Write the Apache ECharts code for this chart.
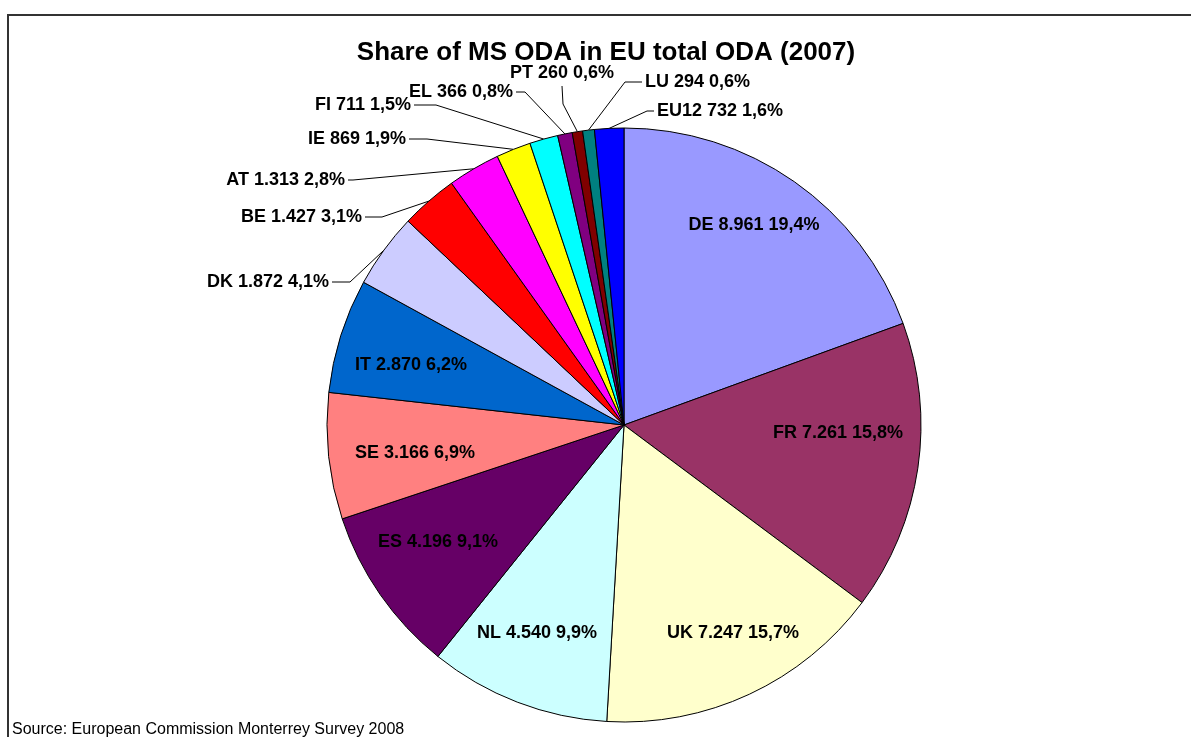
<!DOCTYPE html>
<html lang="en">
<head>
<meta charset="UTF-8">
<title>Share of MS ODA in EU total ODA (2007)</title>
<script src="https://cdn.jsdelivr.net/npm/echarts@6/dist/echarts.min.js"></script>
<style>
html, body { margin: 0; padding: 0; background: #fff; }
#main { width: 1191px; height: 737px; }
</style>
</head>
<body>
<div id="main"></div>
<script type="text/javascript">
// values, clockwise from 12 o'clock (EUR million)
var countries = ['DE', 'FR', 'UK', 'NL', 'ES', 'SE', 'IT', 'DK', 'BE', 'AT', 'IE', 'FI', 'EL', 'PT', 'LU', 'EU12'];
var oda = [8961, 7261, 7247, 4540, 4196, 3166, 2870, 1872, 1427, 1313, 869, 711, 366, 260, 294, 732];
var colors = ['#9999FF', '#993366', '#FFFFCC', '#CCFFFF', '#660066', '#FF8080', '#0066CC', '#CCCCFF',
              '#FF0000', '#FF00FF', '#FFFF00', '#00FFFF', '#800080', '#800000', '#008080', '#0000FF'];

var cx = 624, cy = 425, radius = 297;

// label placement, the way excel put them (inside ones have no elbow)
var labelSpots = [
	{x: 754, y: 225, align: 'center'},
	{x: 838, y: 433, align: 'center'},
	{x: 733, y: 633, align: 'center'},
	{x: 537, y: 633, align: 'center'},
	{x: 438, y: 542, align: 'center'},
	{x: 415, y: 453, align: 'center'},
	{x: 411, y: 365, align: 'center'},
	{x: 329, y: 282, align: 'right', elbow: [350, 282]},
	{x: 362, y: 217, align: 'right', elbow: [382, 217]},
	{x: 345, y: 180, align: 'right', elbow: [353, 180]},
	{x: 406, y: 139, align: 'right', elbow: [427, 139]},
	{x: 411, y: 105, align: 'right', elbow: [436, 105]},
	{x: 513, y: 92, align: 'right', elbow: [525, 92]},
	{x: 562, y: 73, align: 'center', elbow: [563, 104], end: [562, 86]},
	{x: 645, y: 82, align: 'left', elbow: [625, 82]},
	{x: 657, y: 111, align: 'left', elbow: [647, 111]}
];

var total = oda.reduce(function (a, b) { return a + b; }, 0);

function fmt(v) {
	return String(v).replace(/\B(?=(\d{3})+(?!\d))/g, '.');
}

var pieData = countries.map(function (c, i) {
	var inside = !labelSpots[i].elbow;
	return {
		name: c,
		value: oda[i],
		itemStyle: {color: colors[i]},
		label: {position: inside ? 'inside' : 'outside'},
		labelLine: {show: !inside}
	};
});

var myChart = echarts.init(document.getElementById('main'));

var option = {
	animation: false,
	title: [{
		text: 'Share of MS ODA in EU total ODA (2007)',
		left: 606,
		top: 40,
		textAlign: 'center',
		padding: 0,
		textStyle: {fontFamily: 'Liberation Sans', fontSize: 26, fontWeight: 'bold', color: '#000'}
	}, {
		text: 'Source: European Commission Monterrey Survey 2008',
		left: 12,
		top: 722,
		padding: 0,
		textStyle: {fontFamily: 'Liberation Sans', fontSize: 16, fontWeight: 'normal', color: '#000'}
	}],
	graphic: [{
		type: 'polyline',
		silent: true,
		shape: {points: [[8, 737], [8, 15], [1191, 15]]},
		style: {stroke: '#333', lineWidth: 2, fill: null}
	}],
	series: [{
		type: 'pie',
		center: [cx, cy],
		radius: radius,
		startAngle: 90,
		clockwise: true,
		avoidLabelOverlap: false,
		data: pieData,
		itemStyle: {borderColor: '#000', borderWidth: 1},
		emphasis: {disabled: true},
		label: {
			color: '#000',
			fontFamily: 'Liberation Sans',
			fontSize: 18,
			fontWeight: 'bold',
			textBorderWidth: 0,
			formatter: function (p) {
				return p.name + ' ' + fmt(p.value) + ' ' + (p.value / total * 100).toFixed(1).replace('.', ',') + '%';
			}
		},
		labelLine: {show: true, length: 10, length2: 10, lineStyle: {color: '#000', width: 1}},
		labelLayout: function (p) {
			var s = labelSpots[p.dataIndex];
			var out = {x: s.x, y: s.y, align: s.align, verticalAlign: 'middle'};
			if (s.elbow) {
				var end = s.end || [s.x + (s.align === 'right' ? 3 : -3), s.y];
				var anchor = p.labelLinePoints ? p.labelLinePoints[0] : end;
				out.labelLinePoints = [anchor, s.elbow, end];
			}
			return out;
		}
	}]
};
myChart.setOption(option);
</script>
</body>
</html>
